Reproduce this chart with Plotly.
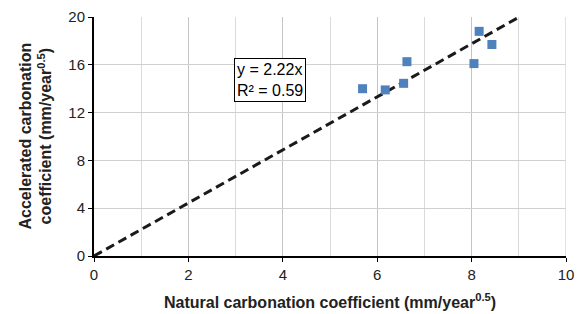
import plotly.graph_objects as go

natural = [5.69, 6.17, 6.56, 6.63, 8.05, 8.16, 8.43]
accelerated = [14.0, 13.9, 14.45, 16.26, 16.1, 18.8, 17.7]
slope = 2.22
r2 = 0.59
fit_x = [0, 10]
fit_y = [slope * v for v in fit_x]

FONT = "Liberation Sans, Arial"

fig = go.Figure()
fig.add_trace(go.Scatter(x=fit_x, y=fit_y, mode="lines",
                         line=dict(color="#1a1a1a", width=3, dash="9px,5px"),
                         hoverinfo="skip", showlegend=False))
fig.add_trace(go.Scatter(x=natural, y=accelerated, mode="markers",
                         marker=dict(symbol="square", size=9, color="#4F81BD"),
                         showlegend=False))

fig.update_xaxes(range=[0, 10], dtick=2, showgrid=True, gridcolor="#c4c4c4", gridwidth=1,
                 minor=dict(dtick=1, showgrid=True, gridcolor="#dadada", gridwidth=1),
                 showline=True, linecolor="black", linewidth=2,
                 ticks="outside", ticklen=4, tickcolor="black",
                 zeroline=False, automargin=False,
                 tickfont=dict(family=FONT, size=15, color="#222"))
fig.update_yaxes(range=[0, 20], dtick=4, showgrid=True, gridcolor="#d0d0d0", gridwidth=1,
                 showline=True, linecolor="black", linewidth=2,
                 ticks="outside", ticklen=4, tickcolor="black",
                 zeroline=False, automargin=False,
                 tickfont=dict(family=FONT, size=15, color="#222"))

fig.add_shape(type="line", xref="x", yref="paper", x0=10, x1=10, y0=0, y1=1,
              line=dict(color="#c4c4c4", width=1), layer="below")

L, R, T, B, W, H = 94, 17, 17, 58, 583, 314
pw, ph = W - L - R, H - T - B

ann_px, ann_py = 270, 58
fig.add_annotation(x=(ann_px - L) / pw, y=1 - (ann_py - T) / ph, xref="paper", yref="paper",
                   text=f"y = {slope}x<br>R² = {r2}", showarrow=False,
                   align="left", bgcolor="white", bordercolor="black",
                   borderwidth=1, borderpad=2,
                   font=dict(family=FONT, size=16, color="black"))

fig.add_annotation(x=0.5, y=-(301 - (H - B)) / ph, xref="paper", yref="paper",
                   text="<b>Natural carbonation coefficient (mm/year<sup>0.5</sup>)</b>",
                   showarrow=False, xanchor="center", yanchor="middle",
                   font=dict(family=FONT, size=16, color="#222"))
fig.add_annotation(x=-(L - 35) / pw, y=0.5, xref="paper", yref="paper",
                   text="<b>Accelerated carbonation<br>coefficient (mm/year<sup>0.5</sup>)</b>",
                   showarrow=False, xanchor="center", yanchor="middle", textangle=-90,
                   font=dict(family=FONT, size=16, color="#222"))

fig.update_layout(width=W, height=H, plot_bgcolor="white", paper_bgcolor="white",
                  margin=dict(l=L, r=R, t=T, b=B))

fig.write_html("out.html", config={"displayModeBar": False},
               post_script="document.body.style.margin='0';document.body.style.overflow='hidden';")
